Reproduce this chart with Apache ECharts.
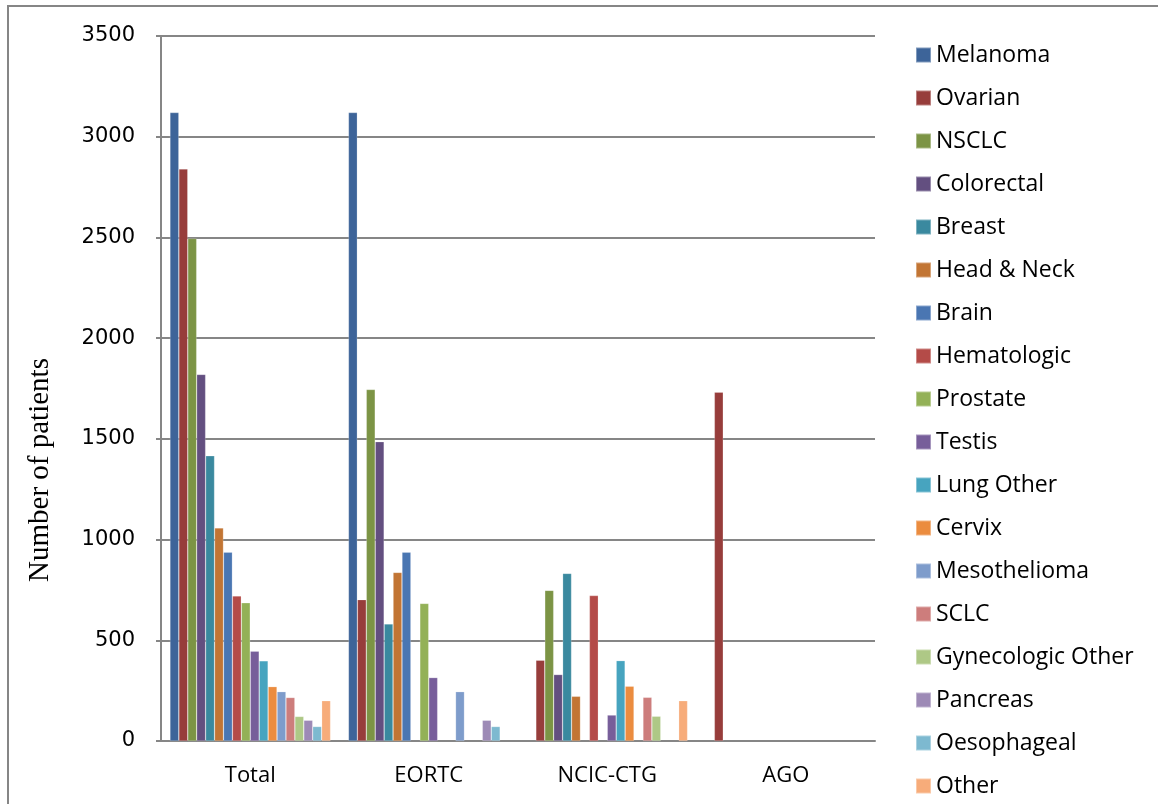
<!DOCTYPE html>
<html>
<head>
<meta charset="utf-8">
<title>Number of patients by tumour type</title>
<script src="https://cdn.jsdelivr.net/npm/echarts@6/dist/echarts.min.js"></script>
<style>
  html, body { margin: 0; padding: 0; background: #fff; }
  #main { width: 1158px; height: 804px; }
</style>
</head>
<body>
<div id="main"></div>
<script type="text/javascript">
    // groups on the x axis
    var groups = ['Total', 'EORTC', 'NCIC-CTG', 'AGO'];
    var tumourTypes = ['Melanoma', 'Ovarian', 'NSCLC', 'Colorectal', 'Breast', 'Head & Neck', 'Brain',
        'Hematologic', 'Prostate', 'Testis', 'Lung Other', 'Cervix', 'Mesothelioma', 'SCLC',
        'Gynecologic Other', 'Pancreas', 'Oesophageal', 'Other'];
    var colors = ['#3D6499', '#973D3B', '#7C9445', '#634F80', '#3A899F', '#C27534', '#4A76B2',
        '#B44B48', '#93B157', '#775E9A', '#47A4BF', '#EB8C3F', '#7E9CCB', '#CD7D7C',
        '#AEC886', '#9D8AB6', '#7DB9D0', '#F7AC7A'];

    // one value per group (Total, EORTC, NCIC-CTG, AGO), null = no bar
    var melanoma     = [3120, 3120, null, null];
    var ovarian      = [2840, 702, 401, 1732];
    var nsclc        = [2495, 1745, 748, null];
    var colorectal   = [1820, 1486, 330, null];
    var breast       = [1416, 581, 832, null];
    var headNeck     = [1058, 837, 222, null];
    var brain        = [937, 937, null, null];
    var hematologic  = [720, null, 722, null];
    var prostate     = [686, 683, null, null];
    var testis       = [446, 315, 129, null];
    var lungOther    = [398, null, 399, null];
    var cervix       = [270, null, 272, null];
    var mesothelioma = [245, 245, null, null];
    var sclc         = [216, null, 217, null];
    var gynOther     = [122, null, 123, null];
    var pancreas     = [103, 103, null, null];
    var oesophageal  = [72, 72, null, null];
    var other        = [200, null, 200, null];

    var values = [melanoma, ovarian, nsclc, colorectal, breast, headNeck, brain, hematologic,
        prostate, testis, lungOther, cervix, mesothelioma, sclc, gynOther, pancreas, oesophageal, other];

    var myChart = echarts.init(document.getElementById('main'));

    var series = tumourTypes.map(function (name, i) {
        return {
            name: name,
            type: 'bar',
            data: values[i],
            barGap: '0%',
            barCategoryGap: '10%',
            itemStyle: {
                color: colors[i],
                borderColor: 'rgba(255,255,255,0.35)',
                borderWidth: 0.6
            }
        };
    });

    myChart.setOption({
        animation: false,
        color: colors,
        graphic: [{
            type: 'rect',
            shape: { x: 8, y: 6, width: 1200, height: 900 },
            style: { fill: 'none', stroke: '#868686', lineWidth: 2 }
        }, {
            type: 'text',
            x: 40,
            y: 470,
            rotation: Math.PI / 2,
            style: {
                text: 'Number of patients',
                font: '29px "Liberation Serif"',
                fill: '#000',
                align: 'center',
                verticalAlign: 'middle'
            }
        }],
        legend: {
            orient: 'vertical',
            left: 910,
            top: 38,
            height: 780,
            itemWidth: 15,
            itemHeight: 15,
            itemGap: 19,
            icon: 'rect',
            textStyle: {
                fontFamily: 'Open Sans',
                fontSize: 23,
                lineHeight: 24,
                color: '#000'
            },
            data: tumourTypes
        },
        grid: {
            left: 161,
            right: 283,
            top: 36,
            bottom: 63
        },
        xAxis: {
            type: 'category',
            data: groups,
            axisLine: { lineStyle: { color: '#868686', width: 2 } },
            axisTick: { length: 9, lineStyle: { color: '#868686', width: 2 } },
            axisLabel: {
                margin: 24,
                fontFamily: 'Open Sans',
                fontSize: 22,
                color: '#000'
            }
        },
        yAxis: {
            type: 'value',
            min: 0,
            max: 3500,
            interval: 500,
            axisLine: { show: true, lineStyle: { color: '#868686', width: 2 } },
            axisTick: { show: true, length: 5, lineStyle: { color: '#868686', width: 2 } },
            splitLine: { lineStyle: { color: '#868686', width: 2 } },
            axisLabel: {
                margin: 26,
                fontFamily: 'DejaVu Sans',
                fontSize: 21,
                color: '#000',
                formatter: function (v) { return String(v); }
            }
        },
        series: series
    });
</script>
</body>
</html>
